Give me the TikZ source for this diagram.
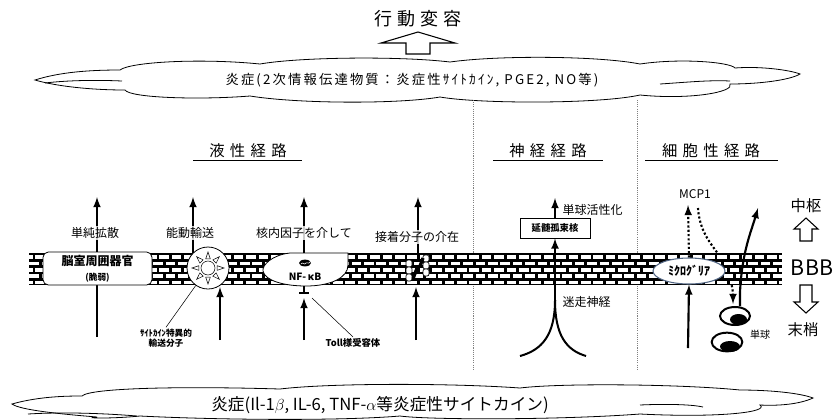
\documentclass[tikz,border=0pt]{standalone}
\usepackage{fontspec}
\setmainfont{Noto Sans CJK JP}
\usetikzlibrary{calc,positioning,shapes.geometric}
\tikzset{>=latex}
\tikzset{
  every node/.style={inner sep=1pt},
  lbl/.style={font=\fontsize{9}{10}\selectfont, fill=white, fill opacity=0.8, text opacity=1},
  boldsmall/.style={font=\bfseries\fontsize{6.5}{7.5}\selectfont, align=center},
  sect/.style={font=\fontsize{11.5}{12}\selectfont},
  flow/.style={->, line width=1.6pt},
  dotflow/.style={->, line width=1.6pt, dash pattern=on 1.6pt off 1.6pt},
  sepline/.style={gray, line width=0.7pt, dash pattern=on 0.8pt off 0.8pt},
  pointer/.style={line width=0.4pt},
  hollow/.style={draw, line width=0.8pt, fill=white},
  cloudline/.style={line width=0.6pt},
}
\begin{document}
\begin{tikzpicture}[x=0.75pt,y=-0.75pt]
\useasboundingbox (0,0) rectangle (834,419);

% behaviour change
\node[font=\fontsize{13.5}{14}\selectfont] (title) at (418,19) {行\hspace{4pt}動\hspace{4pt}変\hspace{4pt}容};
\draw[hollow] (418,32) -- (455,43) -- (430,43) -- (430,54) -- (406,54) -- (406,43) -- (381,43) -- cycle;

% upper cloud
\draw[cloudline, fill=white] (35,80) .. controls (60,72) and (90,70) .. (120,70)
  .. controls (130,62) and (200,58) .. (260,64)
  .. controls (300,57) and (400,56) .. (450,62)
  .. controls (500,55) and (600,56) .. (640,64)
  .. controls (680,58) and (730,62) .. (735,68)
  .. controls (760,66) and (790,70) .. (800,74)
  .. controls (790,80) and (760,84) .. (730,84)
  .. controls (735,92) and (690,100) .. (640,95)
  .. controls (600,104) and (480,104) .. (440,97)
  .. controls (400,104) and (300,104) .. (250,96)
  .. controls (200,100) and (130,98) .. (125,90)
  .. controls (90,90) and (55,86) .. (35,80) -- cycle;
\draw[cloudline] (45,83) .. controls (70,80) and (100,80) .. (122,81);
\draw[cloudline] (660,84) .. controls (690,82) and (710,80) .. (730,81);
\node[font=\fontsize{10}{11}\selectfont\addfontfeature{LetterSpace=16}] (mediator) at (412,80) {炎症(2次情報伝達物質：炎症性ｻｲﾄｶｲﾝ, PGE2, NO等)};

% route separators
\draw[sepline] (473,100) -- (473,370);
\draw[sepline] (637,100) -- (637,370);

% route headings
\node[sect] (humoral) at (248,151) {液\hspace{4pt}性\hspace{4pt}経\hspace{4pt}路};
\node[sect] (neural) at (548,151) {神\hspace{4pt}経\hspace{4pt}経\hspace{4pt}路};
\node[sect] (cellular) at (711,151) {細\hspace{4pt}胞\hspace{4pt}性\hspace{4pt}経\hspace{4pt}路};
\draw (193,160) -- (302,160);
\draw (493,160) -- (603,160);
\draw (645,160) -- (778,160);

% dotted MCP1 path runs behind the wall
\coordinate (mcpin) at (698,208);
\coordinate (monoin) at (733,304);
\draw[dotflow] (mcpin) .. controls (700,240) and (720,250) .. (727,270) .. controls (733,285) and (733,295) .. (monoin);

% blood-brain barrier
\fill (29,253) rectangle (782,285);
\begin{scope}
  \clip (29,253) rectangle (782,285);
  \foreach \r in {0,...,4}{
    \pgfmathsetmacro{\yy}{255.2+6.4*\r}
    \pgfmathsetmacro{\off}{mod(\r,2)*6.2}
    \foreach \b in {0,...,62}{
      \fill[white] ({29+\off+12.4*\b-6},\yy) rectangle +(9.6,3.6);
    }
  }
\end{scope}

% humoral: simple diffusion
\coordinate (d1) at (97,337);
\coordinate (d2) at (97,197);
\draw[flow] (d1) -- (d2);
\node[lbl] (difflbl) at (95,233) {単純拡散};
\node[draw, fill=white, rounded corners=4pt, line width=0.6pt, minimum width=81.75pt, minimum height=24.75pt, align=center] (cvo) at (97.5,268.5)
  {{\bfseries\fontsize{9}{10}\selectfont 脳室周囲器官}\\[-1pt]{\bfseries\fontsize{6.5}{7}\selectfont (脆弱)}};

% humoral: active transport
\node[circle, draw, fill=white, line width=0.6pt, minimum size=31.5pt] (carrier) at (208,268) {};
\foreach \a in {0,45,...,315}{
  \draw[fill=white, line width=0.4pt] ($(carrier)+(\a-14:9.5)$) -- ($(carrier)+(\a:16)$) -- ($(carrier)+(\a+14:9.5)$) -- cycle;
}
\draw[fill=white, line width=0.4pt] (carrier) circle (7);
\coordinate (t1) at (193,197);
\coordinate (t2) at (220,340);
\draw[flow] (193,253) -- (t1);
\draw[flow] (t2) -- (220,287);
\node[lbl] (translbl) at (190,233) {能動輸送};
\node[boldsmall] (carrierlbl) at (166,338) {ｻｲﾄｶｲﾝ特異的\\輸送分子};
\draw[pointer] (carrier.235) -- (carrierlbl.north);

% humoral: nuclear factor
\draw[fill=white, line width=0.6pt] (348,253) -- (290,253) .. controls (272,255) and (262,265) .. (263,271)
  .. controls (265,281) and (285,286) .. (306,286) .. controls (330,286) and (348,278) .. (348,265) -- cycle;
\fill (305,263) ellipse (6 and 3.4);
\draw[white, line width=0.4pt] (301,264) .. controls (303,261) and (304,266) .. (306,263) .. controls (307,261) and (308,265) .. (310,262);
\node[font=\bfseries\fontsize{7.5}{8}\selectfont] (nfkb) at (305,277) {NF-\,κB};
\coordinate (n1) at (304,197);
\coordinate (n2) at (304,340);
\draw[flow] (304,253) -- (n1);
\node[lbl] (nuclbl) at (304,233) {核内因子を介して};
\draw[line width=1.2pt] (304,286) -- (304,293) (299,293) -- (309,293);
\draw[flow] (n2) -- (304,298);
\node[font=\bfseries\fontsize{7}{8}\selectfont] (tlr) at (353,343) {Toll様受容体};
\draw[pointer] (312,298) -- (tlr.north);

% humoral: adhesion molecules
\coordinate (m1) at (418,197);
\coordinate (m2) at (416,340);
\draw[flow] (418,253) -- (m1);
\node[lbl] (adhlbl) at (417,237) {接着分子の介在};
\foreach \k in {0,1,2}{
  \draw[fill=white, line width=0.5pt, rounded corners=1.5pt] (406,260+7*\k) rectangle +(6,7);
  \draw[fill=white, line width=0.5pt, rounded corners=1.5pt] (423,255+7*\k) rectangle +(6,7);
}
\draw[line width=2.4pt] (413,279) -- (417,268) -- (420,266) -- (423,258);
\draw[flow] (m2) -- (416,287);

% neural route
\node[draw, fill=white, line width=0.6pt, minimum width=52.5pt, minimum height=15pt, font=\bfseries\fontsize{7}{8}\selectfont] (nts) at (555,228) {延髄孤束核};
\coordinate (vagus) at (555,300);
\coordinate (v1) at (555,198);
\draw[flow] (vagus) -- (nts.south);
\draw[flow] (nts.north) -- (v1);
\draw[line width=1.5pt] (vagus) .. controls (555,335) and (542,350) .. (520,356);
\draw[line width=1.5pt] (vagus) .. controls (555,335) and (566,350) .. (586,356);
\node[lbl, anchor=west] (monolbl) at (561,210) {単球活性化};
\node[lbl, anchor=west] (vaguslbl) at (561,302) {迷走神経};

% cellular route
\node[ellipse, draw={rgb,255:red,80;green,100;blue,130}, fill=white, line width=0.8pt, minimum width=54pt, minimum height=19.5pt, inner sep=0pt, font=\bfseries\fontsize{9}{10}\selectfont] (micro) at (689,271) {ﾐｸﾛｸﾞﾘｱ};
\node[font=\fontsize{9}{10}\selectfont] (mcp) at (695,194) {MCP1};
\coordinate (c1) at (688,205);
\coordinate (c2) at (688,348);
\draw[dotflow] (micro.north) -- (c1);
\draw[flow] (c2) -- (micro.south);
\node[ellipse, draw, line width=1.5pt, minimum width=22.5pt, minimum height=13.5pt, inner sep=0pt] (mono1) at (735,316) {};
\node[ellipse, draw, line width=1.5pt, minimum width=23pt, minimum height=14pt, inner sep=0pt] (mono2) at (727,342) {};
\fill (738.5,319.5) ellipse (8.5 and 5.5);
\fill (730,346.5) ellipse (10 and 5.5);
\node[font=\fontsize{7.5}{8}\selectfont] (monolabel) at (760,335) {単球};
\coordinate (c3) at (758,208);
\draw[flow] (740,306) -- (740,292) .. controls (742,252) and (751,232) .. (c3);

% centre / periphery
\node[font=\fontsize{11.5}{12}\selectfont] (cns) at (806,206) {中枢};
\node[font=\fontsize{16}{17}\selectfont] (bbb) at (812,268) {BBB};
\node[font=\fontsize{11.5}{12}\selectfont] (periph) at (803,330) {末梢};
\draw[hollow] (806,218) -- (818,229) -- (812,229) -- (812,241) -- (800,241) -- (800,229) -- (794,229) -- cycle;
\draw[hollow] (806,313) -- (818,302) -- (812,302) -- (812,285) -- (800,285) -- (800,302) -- (794,302) -- cycle;

% lower cloud
\draw[cloudline, fill=white] (12,404) .. controls (40,396) and (70,396) .. (82,396)
  .. controls (90,388) and (180,386) .. (280,389)
  .. controls (330,383) and (450,383) .. (520,388)
  .. controls (560,383) and (680,384) .. (740,390)
  .. controls (770,390) and (800,393) .. (813,398)
  .. controls (800,404) and (780,406) .. (760,405)
  .. controls (770,412) and (720,418) .. (640,414)
  .. controls (560,420) and (430,420) .. (400,416)
  .. controls (340,421) and (220,420) .. (140,416)
  .. controls (110,419) and (80,418) .. (97,417)
  .. controls (60,414) and (20,410) .. (12,404) -- cycle;
\draw[cloudline] (28,414) .. controls (60,412) and (100,413) .. (137,416);
\draw[cloudline] (640,405) .. controls (660,404) and (690,404) .. (703,407);
\node[font=\fontsize{12.5}{13}\selectfont] (cytokines) at (380,405) {炎症(Il-1$\beta$, IL-6, TNF-$\alpha$等炎症性サイトカイン)};

\end{tikzpicture}
\end{document}
